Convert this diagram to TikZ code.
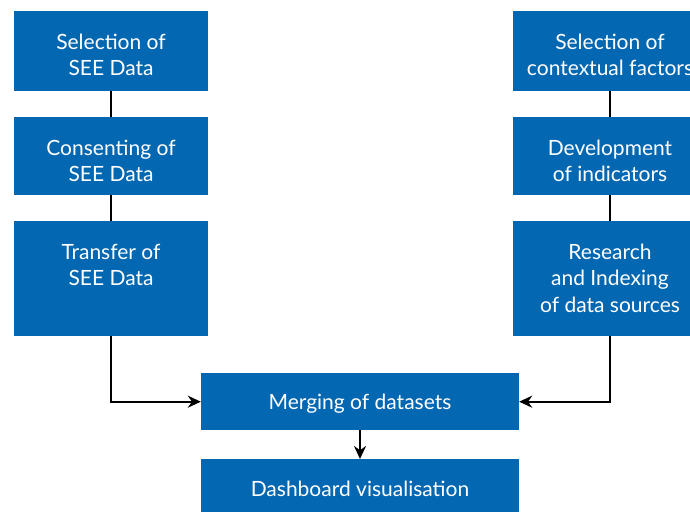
\documentclass[tikz,border=0pt]{standalone}
\usepackage{fontspec}
\setmainfont{Lato}
\usetikzlibrary{arrows.meta}
\definecolor{boxblue}{HTML}{0467B2}
\tikzset{
  box/.style={fill=boxblue, draw=none, inner sep=0pt},
  lbl/.style={text=white, align=center, inner sep=0pt,
    font=\fontsize{21}{26.5}\selectfont},
  conn/.style={draw=black, line width=2.2pt},
  arr/.style={conn, -{Stealth[length=13pt,width=12pt]}}
}
\begin{document}
\begin{tikzpicture}[x=1pt,y=-1pt]
\useasboundingbox (0,0) rectangle (690,511);
\clip (0,0) rectangle (690,511);
% left column
\node[box, minimum width=194pt, minimum height=80pt, anchor=north] (l1) at (111,11) {};
\node[box, minimum width=194pt, minimum height=78pt, anchor=north] (l2) at (111,117) {};
\node[box, minimum width=194pt, minimum height=115pt, anchor=north] (l3) at (111,221) {};
\node[lbl] (l1t) at (111,55) {Selection of\\SEE Data};
\node[lbl] (l2t) at (111,161) {Consenting of\\SEE Data};
\node[lbl] (l3t) at (111,265) {Transfer of\\SEE Data};
% right column
\node[box, minimum width=194pt, minimum height=80pt, anchor=north] (r1) at (610,11) {};
\node[box, minimum width=194pt, minimum height=78pt, anchor=north] (r2) at (610,117) {};
\node[box, minimum width=194pt, minimum height=115pt, anchor=north] (r3) at (610,221) {};
\node[lbl] (r1t) at (610,55) {Selection of\\contextual factors};
\node[lbl] (r2t) at (610,161) {Development\\of indicators};
\node[lbl] (r3t) at (610,278) {Research\\and Indexing\\of data sources};
% bottom
\node[box, minimum width=318pt, minimum height=57pt, anchor=north] (m) at (360,373) {};
\node[box, minimum width=318pt, minimum height=60pt, anchor=north] (d) at (360,459) {};
\node[lbl] (mt) at (360,404) {Merging of datasets};
\node[lbl] (dt) at (360,489) {Dashboard visualisation};
% connectors
\draw[conn] (l1.south) -- (l2.north);
\draw[conn] (l2.south) -- (l3.north);
\draw[conn] (r1.south) -- (r2.north);
\draw[conn] (r2.south) -- (r3.north);
\draw[arr] (l3.south) |- (m.west);
\draw[arr] (r3.south) |- (m.east);
\draw[arr] (m.south) -- (d.north);
\end{tikzpicture}
\end{document}
